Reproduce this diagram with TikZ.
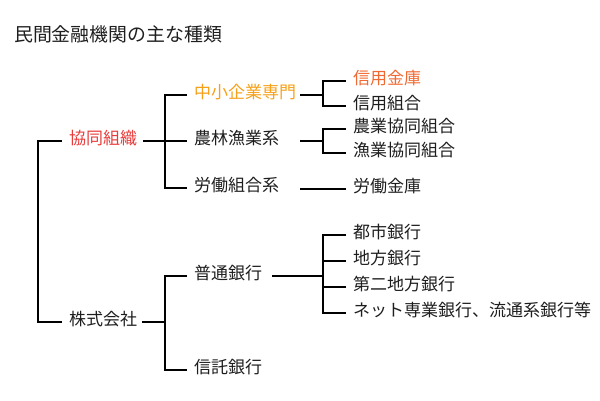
\documentclass[tikz,border=0pt]{standalone}
\usepackage{fontspec}
\newfontfamily\cjk{Noto Sans CJK JP}
\definecolor{amber}{RGB}{245,160,25}
\definecolor{coral}{RGB}{240,105,50}
\definecolor{redtxt}{RGB}{232,60,60}
\definecolor{ink}{RGB}{30,30,30}
\tikzset{
  item/.style={anchor=west,inner sep=0pt,text height=0.76em,text depth=0pt,font=\cjk\fontsize{17}{19}\selectfont,text=ink},
  ttl/.style={anchor=west,inner sep=0pt,text height=0.76em,text depth=0pt,font=\cjk\fontsize{18.9}{21}\selectfont,text=ink},
  conn/.style={draw=black,line width=1.8pt}
}
\begin{document}
\begin{tikzpicture}[x=1pt,y=-1pt]
\useasboundingbox (0,-3) rectangle (600,397);
\node[ttl] (title) at (14,35) {民間金融機関の主な種類};
% level 1
\node[item,text=redtxt] (kyodo) at (69,138) {協同組織};
\node[item] (kabu) at (69,319) {株式会社};
% level 2
\node[item,text=amber] (chusho) at (194,92) {中小企業専門};
\node[item] (norin) at (194,138) {農林漁業系};
\node[item] (rodo) at (194,185) {労働組合系};
\node[item] (futsu) at (194,273) {普通銀行};
\node[item] (shintaku) at (194,367) {信託銀行};
% level 3
\node[item,text=coral] (shinkin) at (353,78) {信用金庫};
\node[item] (shinkumi) at (353,103) {信用組合};
\node[item] (nokyo) at (353,126) {農業協同組合};
\node[item] (gyokyo) at (353,150) {漁業協同組合};
\node[item] (rokin) at (353,186) {労働金庫};
\node[item] (toshi) at (353,232) {都市銀行};
\node[item] (chiho) at (353,258) {地方銀行};
\node[item] (daini) at (353,284) {第二地方銀行};
\node[item] (net) at (353,310) {ネット専業銀行、流通系銀行等};
% junction coordinates
\coordinate (jroot) at (38,138);
\coordinate (jk) at (165,138);
\coordinate (jb) at (165,319);
\coordinate (s1) at (300,92);
\coordinate (j1) at (323,92);
\coordinate (s2) at (300,138);
\coordinate (j2) at (323,138);
\coordinate (s3) at (300,186);
\coordinate (j3) at (323,273);
% root
\draw[conn] ([xshift=-7pt]kyodo.west) -- (jroot) |- ([xshift=-7pt]kabu.west);
% 協同組織
\draw[conn] ([xshift=6pt]kyodo.east) -- ([xshift=-7pt]norin.west);
\draw[conn] ([xshift=-7pt]chusho.west) -| (jk) |- ([xshift=-7pt]rodo.west);
% 株式会社
\draw[conn] ([xshift=5pt]kabu.east) -- (jb);
\draw[conn] ([xshift=-7pt]futsu.west) -| (jb) |- ([xshift=-7pt]shintaku.west);
% 中小企業専門
\draw[conn] (s1) -- (j1);
\draw[conn] ([xshift=-7pt]shinkin.west) -| (j1) |- ([xshift=-7pt]shinkumi.west);
% 農林漁業系
\draw[conn] (s2) -- (j2);
\draw[conn] ([xshift=-7pt]nokyo.west) -| (j2) |- ([xshift=-7pt]gyokyo.west);
% 労働組合系
\draw[conn] (s3) -- ([xshift=-7pt]rokin.west);
% 普通銀行
\draw[conn] ([xshift=10pt]futsu.east) -- (j3);
\draw[conn] ([xshift=-7pt]toshi.west) -| (j3) |- ([xshift=-7pt]net.west);
\draw[conn] ([xshift=-7pt]chiho.west) -- (chiho.west -| j3);
\draw[conn] ([xshift=-7pt]daini.west) -- (daini.west -| j3);
\end{tikzpicture}
\end{document}
